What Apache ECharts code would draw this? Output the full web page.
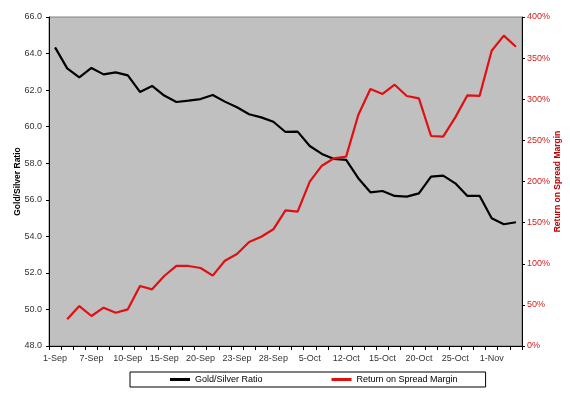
<!DOCTYPE html>
<html>
<head>
<meta charset="utf-8">
<script src="https://cdn.jsdelivr.net/npm/echarts@6/dist/echarts.min.js"></script>
<style>html,body{margin:0;padding:0;background:#fff}#c{width:570px;height:395px}</style>
</head>
<body>
<div id="c"></div>
<script>
var categories = ['1-Sep','2-Sep','3-Sep','7-Sep','8-Sep','9-Sep','10-Sep','13-Sep','14-Sep','15-Sep','16-Sep','17-Sep','20-Sep','21-Sep','22-Sep','23-Sep','24-Sep','27-Sep','28-Sep','29-Sep','1-Oct','5-Oct','7-Oct','8-Oct','12-Oct','13-Oct','14-Oct','15-Oct','18-Oct','19-Oct','20-Oct','21-Oct','22-Oct','25-Oct','27-Oct','29-Oct','1-Nov','2-Nov','3-Nov'];
var goldSilverRatio = [64.34,63.19,62.70,63.21,62.86,62.97,62.81,61.90,62.23,61.70,61.35,61.42,61.51,61.73,61.37,61.06,60.68,60.51,60.27,59.71,59.73,58.94,58.51,58.23,58.18,57.18,56.41,56.48,56.21,56.17,56.35,57.27,57.32,56.90,56.21,56.22,54.99,54.66,54.77];
var returnOnSpreadMargin = [null,32.4,48.6,36.5,46.6,40.5,44.6,72.9,68.9,85.1,97.3,97.3,94.8,85.5,103.7,111.9,126.4,132.9,141.9,165.0,163.3,199.8,219.2,228.2,230.2,280.9,312.5,306.4,317.7,304.0,301.1,255.3,254.5,278.0,304.8,304.0,359.0,377.3,363.9];
var leftTicks = {min:48, max:66, interval:2};
var rightTicks = {min:0, max:400, interval:50};

var chart = echarts.init(document.getElementById('c'));
var font = 'Liberation Sans, Arial, sans-serif';
chart.setOption({
  animation:false,
  backgroundColor:'#ffffff',
  grid:{left:49, right:48, top:17, bottom:49, show:true, backgroundColor:'#c0c0c0', borderColor:'#808080', borderWidth:1, outerBoundsMode:'none', containLabel:false},
  legend:{
    left:130, top:372, padding:[3,28,3,40], itemGap:69, itemWidth:20, itemHeight:3, icon:'rect',
    borderColor:'#000', borderWidth:1, backgroundColor:'#fff',
    textStyle:{fontFamily:font, fontSize:9, color:'#000'},
    data:['Gold/Silver Ratio','Return on Spread Margin']
  },
  xAxis:{
    type:'category', data:categories, boundaryGap:true,
    axisLine:{lineStyle:{color:'#000', width:1}},
    axisTick:{show:true, length:4, interval:0, lineStyle:{color:'#000'}},
    axisLabel:{interval:2, fontFamily:font, fontSize:9, color:'#333', margin:8},
    splitLine:{show:false}
  },
  yAxis:[{
    type:'value', min:leftTicks.min, max:leftTicks.max, interval:leftTicks.interval,
    name:'Gold/Silver Ratio', nameLocation:'middle', nameGap:27, nameRotate:90, nameMoveOverlap:false,
    nameTextStyle:{fontFamily:font, fontSize:8.5, fontWeight:'bold', color:'#000'},
    axisLine:{show:true, lineStyle:{color:'#000', width:1}},
    axisTick:{show:true, length:3, lineStyle:{color:'#000'}},
    axisLabel:{fontFamily:font, fontSize:9, color:'#333', margin:7, formatter:function(v){return v.toFixed(1);}},
    splitLine:{show:false}
  },{
    type:'value', position:'right', min:rightTicks.min, max:rightTicks.max, interval:rightTicks.interval,
    name:'Return on Spread Margin', nameLocation:'middle', nameGap:31, nameRotate:90, nameMoveOverlap:false,
    nameTextStyle:{fontFamily:font, fontSize:8.5, fontWeight:'bold', color:'#c00000'},
    axisLine:{show:true, lineStyle:{color:'#000', width:1}},
    axisTick:{show:true, length:3, lineStyle:{color:'#000'}},
    axisLabel:{fontFamily:font, fontSize:9, color:'#d02020', margin:5, formatter:'{value}%'},
    splitLine:{show:false}
  }],
  series:[{
    name:'Gold/Silver Ratio', type:'line', data:goldSilverRatio, yAxisIndex:0,
    symbol:'none', lineStyle:{color:'#000', width:2.2}, itemStyle:{color:'#000'}
  },{
    name:'Return on Spread Margin', type:'line', data:returnOnSpreadMargin, yAxisIndex:1,
    symbol:'none', connectNulls:false, lineStyle:{color:'#e01010', width:2.2}, itemStyle:{color:'#e01010'}
  }]
});
</script>
</body>
</html>
